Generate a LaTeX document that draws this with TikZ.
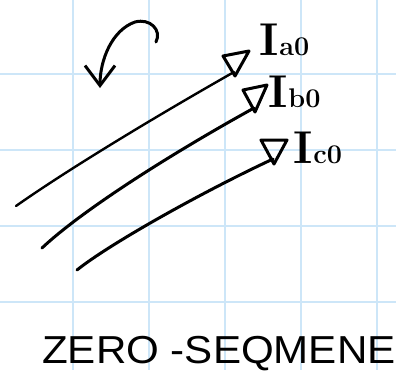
\documentclass[tikz,border=0pt]{standalone}
\usepackage{fontspec}
\newfontfamily\handsans{Liberation Sans}
\usetikzlibrary{arrows.meta}
\definecolor{gridblue}{HTML}{CDE6F8}
\newcommand{\curlbl}[1]{{\fontsize{46}{46}\selectfont I}\kern1pt{\fontsize{27}{27}\selectfont #1}}
\begin{document}
\begin{tikzpicture}[x=1pt,y=-1pt,
  gridline/.style={draw=gridblue,line width=1.6pt},
  phasor/.style={draw=black,line width=3pt,line cap=round},
  headtri/.style={draw=black,line width=3pt,line join=round},
  lbl/.style={anchor=base west,inner sep=0pt,font=\rmfamily\bfseries},
  rotarrow/.style={draw=black,line width=3pt,line cap=round,
    -{Straight Barb[length=20pt,width=30pt,line width=3pt]}}]
  % page
  \useasboundingbox (0,0) rectangle (396,370);
  \fill[white] (0,0) rectangle (396,370);
  % squared paper
  \foreach \gx in {73,149,225,301,377} \draw[gridline] (\gx,0) -- (\gx,370);
  \foreach \gy in {74,150,226,302} \draw[gridline] (0,\gy) -- (396,\gy);

  % phasor ends
  \coordinate (sa) at (16,206);
  \coordinate (ea) at (234,72);
  \coordinate (sb) at (42,248);
  \coordinate (eb) at (254,108);
  \coordinate (sc) at (77,270);
  \coordinate (ec) at (273,159);

  % three equal zero-sequence phasors
  \draw[phasor,line width=2.4pt] (sa) .. controls (70,168) and (160,114) .. (ea);
  \draw[phasor] (sb) .. controls (78,214) and (160,160) .. (eb);
  \draw[phasor] (sc) .. controls (108,245) and (200,193) .. (ec);

  % open triangular heads
  \draw[headtri] (ea) ++(1,4) -- ++(-12,-20) -- ++(26,-5) -- cycle;
  \draw[headtri] (eb) ++(1,4) -- ++(-12,-22) -- ++(24,-5) -- cycle;
  \draw[headtri] (ec) ++(1,5) -- ++(-13,-24) -- ++(26,0) -- cycle;

  % labels
  \node[lbl] (la) at (259,55) {\curlbl{a0}};
  \node[lbl] (lb) at (268,107) {\curlbl{b0}};
  \node[lbl] (lc) at (293,163) {\curlbl{c0}};

  % sense of rotation
  \coordinate (r0) at (156,42);
  \coordinate (r1) at (100,88);
  \draw[rotarrow] (r0) .. controls (162,30) and (150,18) .. (135,22)
                       .. controls (112,30) and (100,60) .. (r1);

  % caption
  \node[anchor=base west,inner sep=0pt,xscale=1.08,font=\handsans\fontsize{39}{39}\selectfont]
    (cap) at (42,363) {ZERO -SEQMENE};
\end{tikzpicture}
\end{document}
